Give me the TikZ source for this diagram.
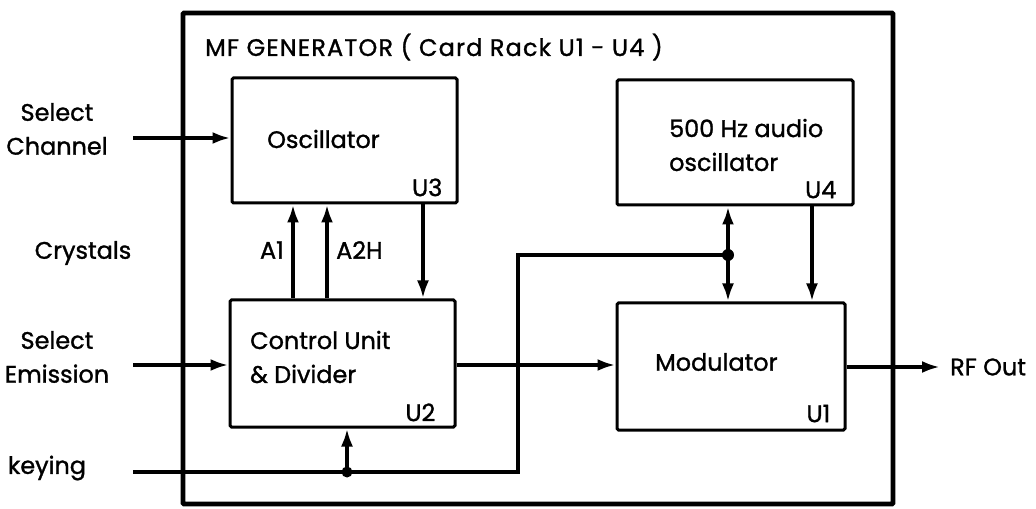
\documentclass[tikz,border=0pt]{standalone}
\usepackage{fontspec}
\setmainfont{Poppins}[RawFeature={embolden=1.2}]
\usetikzlibrary{arrows.meta}
\tikzset{
  card/.style 2 args={draw, line width=3bp, rounded corners=1.5bp, inner sep=0pt,
    minimum width=#1, minimum height=#2},
  sig/.style={line width=3.8bp},
  into/.style={sig, -{Latex[length=18bp,width=12bp]}},
  txt/.style={inner sep=0pt, align=center},
  unitno/.style={inner sep=0pt, anchor=south east}
}
\begin{document}
\begin{tikzpicture}[x=1bp, y=-1bp, font=\fontsize{24}{34}\selectfont]
  \useasboundingbox (0,0) rectangle (1036,509);
  % card rack frame
  \node[card={710bp}{491bp}, line width=4.8bp, rounded corners=1bp] (rack) at (538,258.5) {};
  \node[txt, anchor=west, font=\fontsize{24}{34}\selectfont\addfontfeature{LetterSpace=5}]
    (title) at (205,47) {MF GENERATOR ( Card Rack U1 - U4 )};
  % cards
  \node[card={225bp}{125bp}] (osc) at (344.5,140.5) {};
  \node[card={225bp}{127bp}] (ctl) at (342.5,363.5) {};
  \node[card={236bp}{125bp}] (aud) at (735,142.5) {};
  \node[card={228bp}{127bp}] (mod) at (731,366.5) {};
  \node[txt, anchor=west] (osctxt) at (267,139) {Oscillator};
  \node[txt, anchor=west, align=left] (ctltxt) at (250,357) {Control Unit\\\& Divider};
  \node[txt, anchor=west, align=left] (audtxt) at (669,145) {500 Hz audio\\oscillator};
  \node[txt, anchor=west] (modtxt) at (655,362) {Modulator};
  \node[unitno] (u3) at ([xshift=-16bp,yshift=8bp]osc.south east) {U3};
  \node[unitno] (u2) at ([xshift=-21bp,yshift=7bp]ctl.south east) {U2};
  \node[unitno] (u4) at ([xshift=-18bp,yshift=8bp]aud.south east) {U4};
  \node[unitno] (u1) at ([xshift=-16bp,yshift=9bp]mod.south east) {U1};
  % outside labels
  \node[txt] (chan) at (57,129) {Select\\Channel};
  \node[txt] (cryst) at (83,253) {Crystals};
  \node[txt] (emis) at (57,357) {Select\\Emission};
  \node[txt] (key) at (47,468) {keying};
  \node[txt, anchor=west] (rf) at (950,367) {RF Out};
  % free ends and junctions
  \coordinate (chanin) at (133,138);
  \coordinate (emisin) at (133,365);
  \coordinate (keyin) at (133,472);
  \coordinate (jk) at (347,472);
  \coordinate (kc) at (518,472);
  \coordinate (jm) at (728,255);
  \coordinate (a1) at (293,250);
  \coordinate (a2) at (327,250);
  \coordinate (b3) at (423,250);
  \coordinate (b4) at (812,250);
  \coordinate (rfout) at (940,367);
  % inputs
  \draw[into] (chanin) -- (chanin -| osc.west);
  \draw[into] (emisin) -- (emisin -| ctl.west);
  % crystals lines
  \draw[into] (a1 |- ctl.north) -- (a1 |- osc.south);
  \draw[into] (a2 |- ctl.north) -- (a2 |- osc.south);
  \node[txt, anchor=east] (a1txt) at ([xshift=-9bp]a1) {A1};
  \node[txt, anchor=west] (a2txt) at ([xshift=9bp]a2) {A2H};
  \draw[into] (b3 |- osc.south) -- (b3 |- ctl.north);
  % keying
  \draw[sig] (keyin) -- (kc) -- (kc |- jm) -- (jm);
  \fill (jk) circle (5.5bp);
  \draw[into] (jk) -- (jk |- ctl.south);
  \fill (jm) circle (6bp);
  \draw[into] (jm) -- (jm |- aud.south);
  \draw[into] (jm) -- (jm |- mod.north);
  % audio tone to modulator
  \draw[into] (b4 |- aud.south) -- (b4 |- mod.north);
  % control unit to modulator, RF out
  \draw[into] (ctl.east |- emisin) -- (mod.west |- emisin);
  \draw[into] (mod.east |- rfout) -- (rfout);
\end{tikzpicture}
\end{document}
